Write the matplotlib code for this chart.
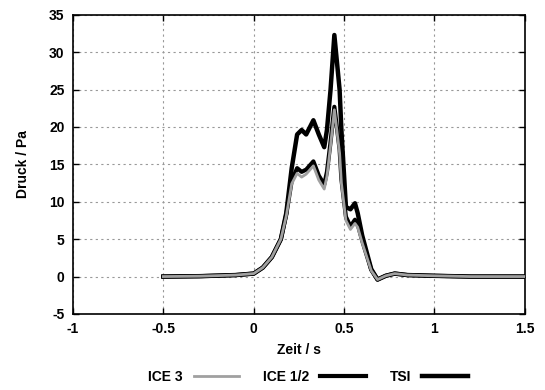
import matplotlib
matplotlib.use("Agg")
import matplotlib.pyplot as plt

# time axis (s) shared by all series
zeit = [-0.5, -0.3, -0.1, 0.0, 0.05, 0.1, 0.15, 0.18, 0.21, 0.24, 0.265, 0.29, 0.33,
        0.36, 0.39, 0.405, 0.425, 0.446, 0.475, 0.485, 0.51, 0.535, 0.56, 0.575, 0.6,
        0.65, 0.685, 0.73, 0.78, 0.85, 1.0, 1.2, 1.5]

tsi = [0.0, 0.05, 0.2, 0.4, 1.2, 2.6, 5.0, 8.5, 14.5, 19.0, 19.6, 19.0, 20.9,
       19.0, 17.3, 19.6, 25.0, 32.3, 25.0, 19.6, 9.3, 9.0, 9.8, 8.5, 5.5,
       1.0, -0.4, 0.1, 0.4, 0.2, 0.1, 0.0, 0.0]

ice12 = [0.0, 0.05, 0.2, 0.4, 1.2, 2.6, 5.0, 8.3, 12.8, 14.5, 14.0, 14.3, 15.4,
         13.5, 12.3, 14.0, 18.0, 22.7, 17.0, 13.0, 8.0, 6.7, 7.6, 7.0, 4.8,
         0.9, -0.4, 0.1, 0.4, 0.2, 0.1, 0.0, 0.0]

ice3 = [0.0, 0.05, 0.2, 0.4, 1.2, 2.6, 5.0, 8.1, 12.4, 13.8, 13.3, 13.7, 14.8,
        12.9, 11.7, 13.4, 17.5, 22.3, 16.5, 12.5, 7.5, 6.3, 7.1, 6.6, 4.5,
        0.8, -0.4, 0.1, 0.4, 0.2, 0.1, 0.0, 0.0]

xticks = [-1, -0.5, 0, 0.5, 1, 1.5]
xticklabels = ["-1", "-0.5", "0", "0.5", "1", "1.5"]
yticks = [-5, 0, 5, 10, 15, 20, 25, 30, 35]

plt.rcParams["font.family"] = ["Liberation Sans", "DejaVu Sans"]
plt.rcParams["font.weight"] = "bold"
plt.rcParams["font.size"] = 10
plt.rcParams["axes.unicode_minus"] = False

fig = plt.figure(figsize=(5.45, 3.9), dpi=100)
ax = fig.add_axes([0.134, 0.195, 0.829, 0.767])

ax.plot(zeit, ice3, color="#a0a0a0", lw=2.0, label="ICE 3", zorder=4)
ax.plot(zeit, ice12, color="black", lw=3.0, label="ICE 1/2", zorder=3)
ax.plot(zeit, tsi, color="black", lw=3.2, label="TSI", zorder=3)

ax.set_xlim(-1, 1.5)
ax.set_ylim(-5, 35)
ax.set_xticks(xticks)
ax.set_xticklabels(xticklabels)
ax.set_yticks(yticks)
ax.tick_params(direction="in", top=True, right=True, length=4, width=1, pad=6)
ax.grid(True, color="#999999", linestyle=(0, (2, 3)), lw=0.8)
for s in ax.spines.values():
    s.set_linewidth(1.2)

ax.set_xlabel("Zeit / s", fontweight="bold", labelpad=5)
ax.set_ylabel("Druck / Pa", fontweight="bold", labelpad=14)

ax.legend(loc="upper center", bbox_to_anchor=(0.52, -0.155), ncol=3, frameon=False,
          markerfirst=False, handlelength=3.3, columnspacing=1.7, handletextpad=0.8,
          borderpad=0.2, prop={"weight": "bold", "size": 10})

fig.savefig("out.png", dpi=100)
